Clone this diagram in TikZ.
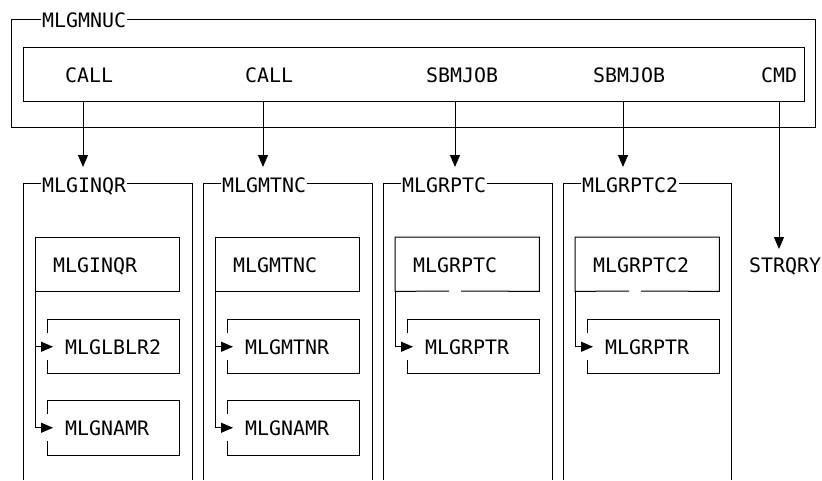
\documentclass[tikz,border=0pt]{standalone}
\usepackage{fontspec}
\newfontfamily\mono{DejaVu Sans Mono}
\usetikzlibrary{arrows.meta}
\begin{document}
\begin{tikzpicture}[x=1pt,y=-1pt,
  frame/.style={draw=black,line width=1pt},
  txt/.style={font=\mono\fontsize{19.9pt}{20pt}\selectfont, inner sep=0pt, anchor=base west},
  lbl/.style={txt, fill=white, inner xsep=1pt},
  boxn/.style={minimum width=144pt, minimum height=54pt, inner sep=0pt, anchor=north west},
  arr/.style={line width=1pt,-{Triangle[length=12pt,width=10pt]}}]
\useasboundingbox (0,0) rectangle (822,480);
\fill[white] (0,0) rectangle (822,480);
% main frame
\draw[frame] (11,19) rectangle (815,127);
\node[lbl] (mnuc) at (41,27) {MLGMNUC};
\node[frame, minimum width=781pt, minimum height=54pt, inner sep=0pt, anchor=north west] (row) at (23,47) {};
\node[txt] (call1) at (65,82) {CALL};
\node[txt] (call2) at (245,82) {CALL};
\node[txt] (sbm1) at (426,82) {SBMJOB};
\node[txt] (sbm2) at (593,82) {SBMJOB};
\node[txt] (cmd) at (761,82) {CMD};
\node[txt] (strqry) at (749,272) {STRQRY};
% arrow tips
\coordinate (t1) at (83,167);
\coordinate (t2) at (263,167);
\coordinate (t3) at (455,167);
\coordinate (t4) at (623,167);
\coordinate (t5) at (779,249);
\draw[arr] (row.south -| t1) -- (t1);
\draw[arr] (row.south -| t2) -- (t2);
\draw[arr] (row.south -| t3) -- (t3);
\draw[arr] (row.south -| t4) -- (t4);
\draw[arr] (row.south -| t5) -- (t5);
% column 1
\draw[frame] (23,480) -- (23,183) -- (192,183) -- (192,480);
\node[lbl] (lab1) at (41,192) {MLGINQR};
\node[boxn, frame] (in1) at (35,237) {};
\node[txt] (in1t) at (53,272) {MLGINQR};
\draw[frame] (47,333) -- (47,319) -- (179,319) -- (179,373) -- (47,373) -- (47,360);
\node[txt] (s11) at (65,354) {MLGLBLR2};
\draw[frame] (47,414) -- (47,400) -- (179,400) -- (179,455) -- (47,455) -- (47,441);
\node[txt] (s12) at (65,435) {MLGNAMR};
\draw[arr] (in1.south west) |- ([xshift=-12pt]s11.west);
\draw[arr] (in1.south west) |- ([xshift=-12pt]s12.west);
% column 2
\draw[frame] (203,480) -- (203,183) -- (372,183) -- (372,480);
\node[lbl] (lab2) at (221,192) {MLGMTNC};
\node[boxn, frame] (in2) at (215,237) {};
\node[txt] (in2t) at (233,272) {MLGMTNC};
\draw[frame] (227,333) -- (227,319) -- (359,319) -- (359,373) -- (227,373) -- (227,360);
\node[txt] (s21) at (245,354) {MLGMTNR};
\draw[frame] (227,414) -- (227,400) -- (359,400) -- (359,455) -- (227,455) -- (227,441);
\node[txt] (s22) at (245,435) {MLGNAMR};
\draw[arr] (in2.south west) |- ([xshift=-12pt]s21.west);
\draw[arr] (in2.south west) |- ([xshift=-12pt]s22.west);
% column 3
\draw[frame] (383,480) -- (383,183) -- (552,183) -- (552,480);
\node[lbl] (lab3) at (401,192) {MLGRPTC};
\node[boxn] (in3) at (395,237) {};
\draw[frame] (449,291) -- (in3.south west) -- (in3.north west) -- (in3.north east) -- (in3.south east) -- (461,291);
\node[txt] (in3t) at (413,272) {MLGRPTC};
\draw[frame] (407,333) -- (407,319) -- (539,319) -- (539,373) -- (407,373) -- (407,360);
\node[txt] (s31) at (425,354) {MLGRPTR};
\draw[arr] (in3.south west) |- ([xshift=-12pt]s31.west);
% column 4
\draw[frame] (563,480) -- (563,183) -- (731,183) -- (731,480);
\node[lbl] (lab4) at (581,192) {MLGRPTC2};
\node[boxn] (in4) at (575,237) {};
\draw[frame] (629,291) -- (in4.south west) -- (in4.north west) -- (in4.north east) -- (in4.south east) -- (641,291);
\node[txt] (in4t) at (593,272) {MLGRPTC2};
\draw[frame] (587,333) -- (587,319) -- (719,319) -- (719,373) -- (587,373) -- (587,360);
\node[txt] (s41) at (605,354) {MLGRPTR};
\draw[arr] (in4.south west) |- ([xshift=-12pt]s41.west);
\end{tikzpicture}
\end{document}
